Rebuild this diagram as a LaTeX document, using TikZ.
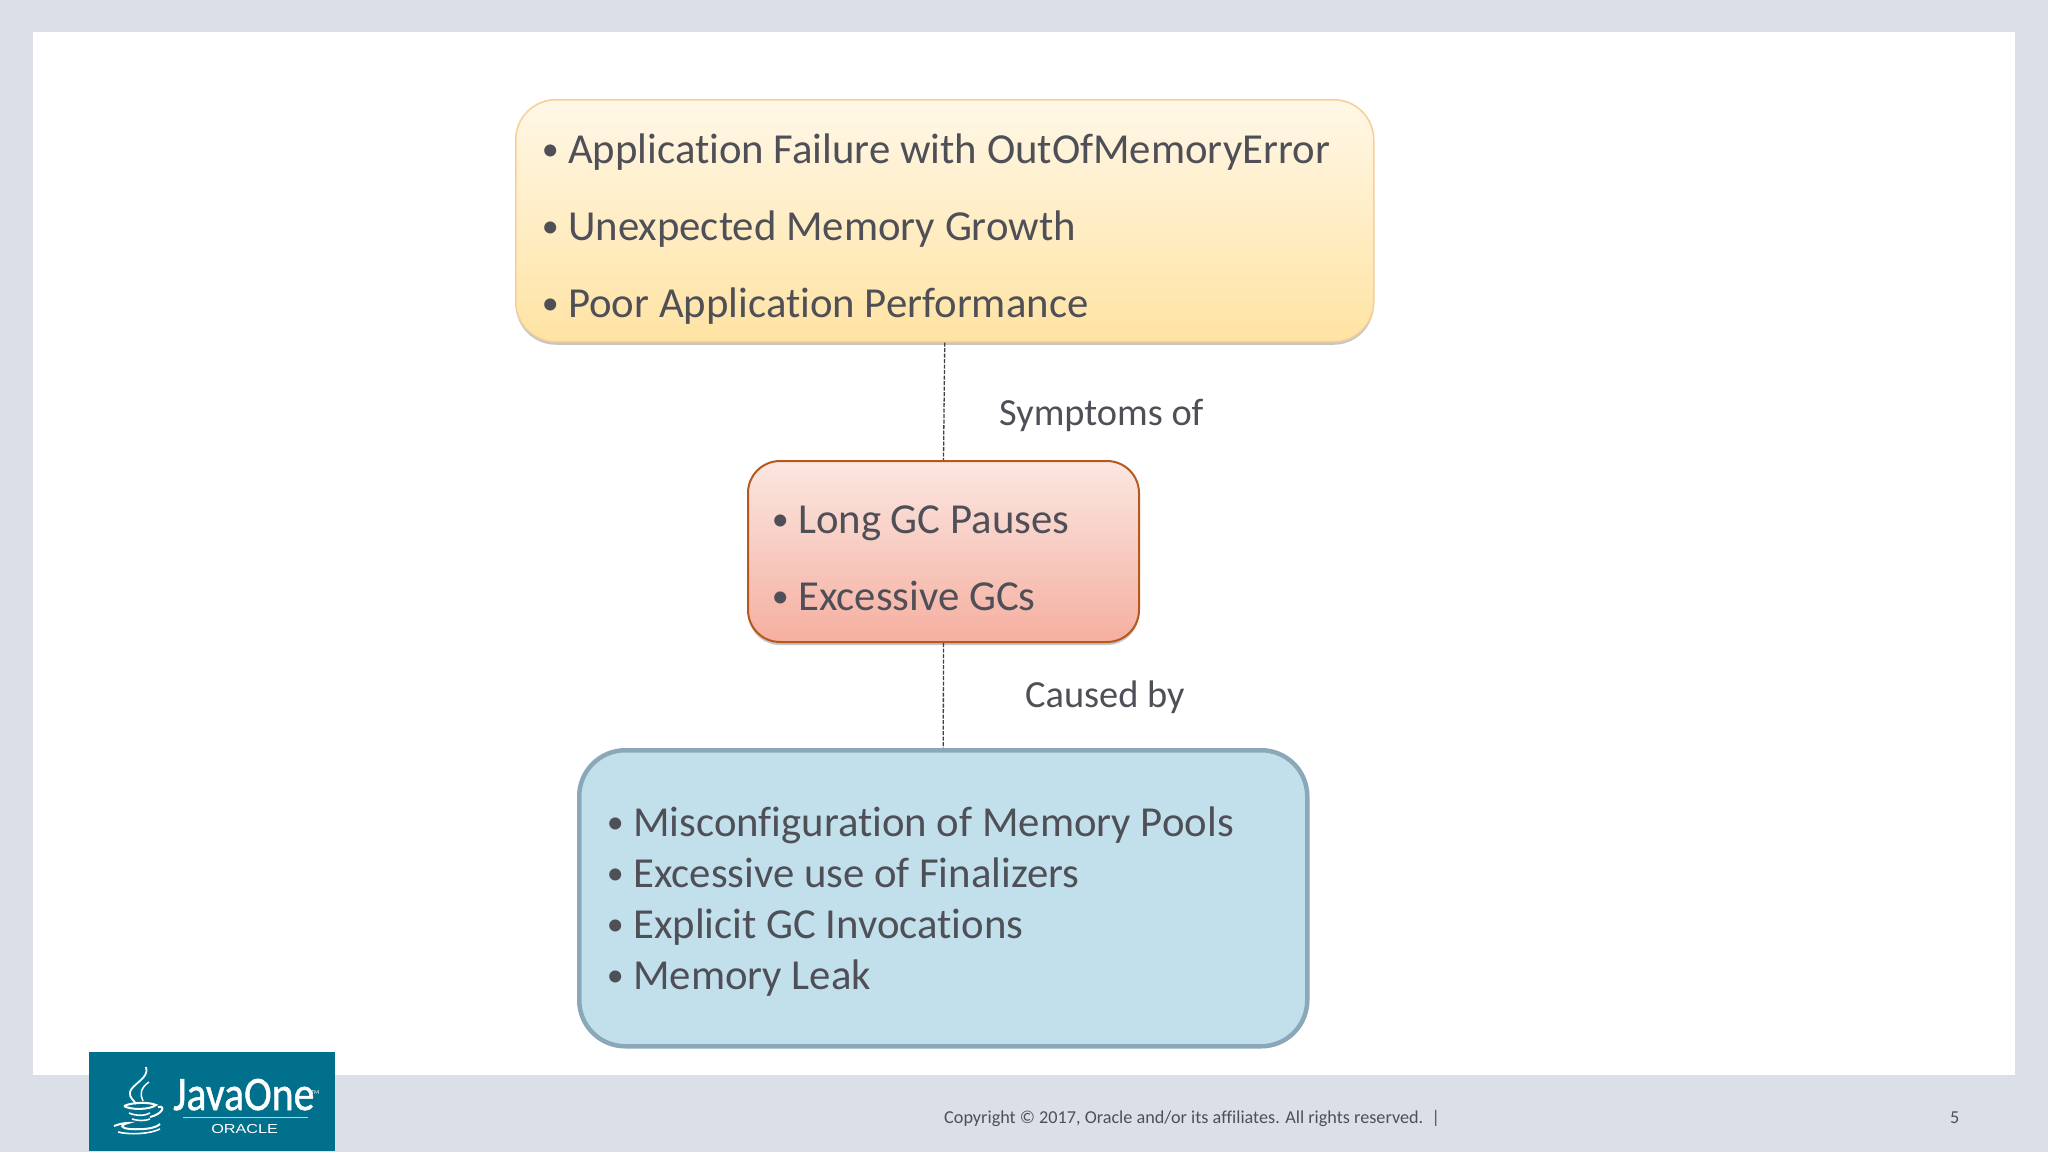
\documentclass[tikz,border=0pt]{standalone}
\usepackage{fontspec}
\setmainfont[RawFeature={-liga}]{Carlito}
\newfontfamily\oraclefont{Liberation Sans}
\usetikzlibrary{shadows}
\definecolor{slidebg}{HTML}{DBE0E8}
\definecolor{textgrey}{HTML}{4F4F57}
\definecolor{logoteal}{HTML}{00708C}
\definecolor{yellowline}{HTML}{F6CF97}
\definecolor{yellowtop}{HTML}{FFF7E6}
\definecolor{yellowbot}{HTML}{FFE3A3}
\definecolor{redline}{HTML}{B5591E}
\definecolor{redtop}{HTML}{FBE7E1}
\definecolor{redbot}{HTML}{F5AFA0}
\definecolor{blueline}{HTML}{8AA8B8}
\definecolor{bluefill}{HTML}{C2E0EC}
\tikzset{
  lbox/.style={draw,rounded corners=#1,anchor=north west,inner sep=0pt},
  softshadow/.style={drop shadow={shadow xshift=0pt,shadow yshift=-3pt,opacity=.45}},
  yellowbox/.style={lbox=40pt,draw=yellowline,line width=1.5pt,top color=yellowtop,bottom color=yellowbot,softshadow},
  redbox/.style={lbox=32pt,draw=redline,line width=2pt,top color=redtop,bottom color=redbot,softshadow},
  bluebox/.style={lbox=46pt,draw=blueline,line width=4.5pt,fill=bluefill},
  linetext/.style={text=textgrey,anchor=base west,inner sep=0pt,font=\fontsize{#1}{#1}\selectfont},
  bullettext/.style={linetext=34,anchor=base east},
  dashline/.style={dash pattern=on 4pt off 1.5pt,line width=1.3pt,draw=black!75},
}
\begin{document}
\begin{tikzpicture}[x=1pt,y=-1pt]
  \useasboundingbox (0,0) rectangle (2048,1152);
  \fill[slidebg] (0,0) rectangle (2048,1152);
  \fill[white] (33,32) rectangle (2015,1075);

  \node[yellowbox,minimum width=858pt,minimum height=242pt] (failbox) at (515,99) {};
  \node[redbox,minimum width=391pt,minimum height=181pt] (gcbox) at (747,460) {};
  \node[bluebox,minimum width=728pt,minimum height=296pt] (causebox) at (577,748) {};

  \draw[dashline] (failbox.south) -- (gcbox.north);
  \draw[dashline] (gcbox.south) -- (causebox.north);
  \node[linetext=38.4] (symptoms) at (999,425) {Symptoms of};
  \node[linetext=38.4] (caused) at (1025,707) {Caused by};

  \foreach \n/\y/\t in {a/163/Application Failure with OutOfMemoryError,b/240/Unexpected Memory Growth,c/317/Poor Application Performance} {
    \node[linetext=42.75] (fail\n) at (568,\y) {\t};
    \node[bullettext] (failb\n) at (559,\y-3) {•};
  }
  \foreach \n/\y/\t in {a/533/Long GC Pauses,b/610/Excessive GCs} {
    \node[linetext=42.75] (gc\n) at (798,\y) {\t};
    \node[bullettext] (gcb\n) at (789,\y-3) {•};
  }
  \foreach \n/\y/\t in {a/836/Misconfiguration of Memory Pools,b/887/Excessive use of Finalizers,c/938/Explicit GC Invocations,d/989/Memory Leak} {
    \node[linetext=42.75] (cause\n) at (633,\y) {\t};
    \node[bullettext] (causeb\n) at (624,\y-3) {•};
  }

  \node[linetext=18.2] (copyright) at (944,1123) {Copyright © 2017, Oracle and/or its affiliates. All rights reserved.\ \ |};
  \node[linetext=18.2] (pagenum) at (1950,1123) {5};

  \fill[logoteal] (89,1052) rectangle (335,1151);
  \begin{scope}[white]
    \draw[line width=1.8pt] (146,1067) .. controls (150,1078) and (132,1084) .. (130,1092) .. controls (129,1098) and (134,1100) .. (136,1104);
    \draw[line width=1.5pt] (149,1082) .. controls (140,1088) and (140,1095) .. (143,1101);
    \draw[line width=2pt] (124,1106) .. controls (132,1102) and (150,1102) .. (156,1105) .. controls (150,1110) and (130,1110) .. (124,1106);
    \draw[line width=2pt] (158,1107) .. controls (166,1105) and (163,1114) .. (150,1117);
    \draw[line width=1.6pt] (129,1113) .. controls (136,1116) and (145,1116) .. (150,1113);
    \draw[line width=1.6pt] (132,1119) .. controls (138,1121) and (145,1121) .. (150,1119);
    \draw[line width=2pt] (114,1126) .. controls (122,1123) and (126,1123) .. (128,1123) .. controls (120,1125) and (120,1128) .. (130,1129) .. controls (145,1130) and (156,1128) .. (160,1124);
    \draw[line width=1.6pt] (118,1132) .. controls (130,1135) and (150,1134) .. (160,1129);
    \node[anchor=base west,inner sep=0pt,text=white,font=\fontsize{48}{48}\selectfont\addfontfeature{FakeBold=1},xscale=.87] (javaone) at (173,1110) {JavaOne};
    \node[anchor=base west,inner sep=0pt,text=white,font=\fontsize{6}{6}\selectfont] (tmark) at (311,1094) {TM};
    \draw[cyan!40!white,line width=1pt] (183,1117) -- (308,1117);
    \node[anchor=base west,inner sep=0pt,text=white,font=\oraclefont\fontsize{13}{13}\selectfont,xscale=1.25] (oracle) at (211,1133) {ORACLE};
  \end{scope}
\end{tikzpicture}
\end{document}
